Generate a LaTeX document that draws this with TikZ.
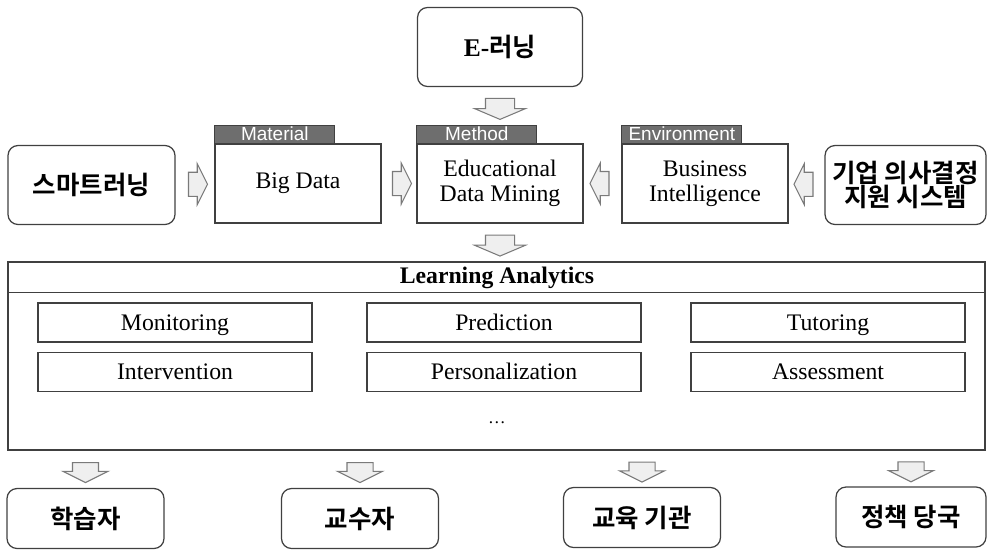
\documentclass[tikz,border=0pt]{standalone}
\usepackage{fontspec}
\setmainfont{Liberation Serif}
\setsansfont{Liberation Sans}
\newfontfamily\kr{Noto Sans CJK KR}[BoldFont=* Bold]
\usetikzlibrary{shapes,arrows,positioning,calc}
\usetikzlibrary{shapes.arrows}

\definecolor{linegray}{HTML}{404040}
\definecolor{tabgray}{HTML}{6E6E6E}
\definecolor{arrowfill}{HTML}{EFEFEF}
\definecolor{arrowline}{HTML}{7A7A7A}

\tikzset{
  rbox/.style={shape=rectangle,draw=linegray,line width=0.7pt,rounded corners=0.2cm,
    minimum width=3.3cm,minimum height=1.58cm,align=center,
    font=\kr\bfseries\fontsize{14.5}{13.5}\selectfont},
  sqbox/.style={shape=rectangle,draw=linegray,line width=0.7pt,
    minimum width=3.32cm,minimum height=1.58cm,align=center,
    font=\fontsize{13.5}{14}\selectfont},
  tab/.style={shape=rectangle,fill=tabgray,draw=linegray,line width=0.5pt,text=white,
    minimum width=2.4cm,minimum height=0.36cm,inner sep=0pt,anchor=south west,
    font=\sffamily\fontsize{10.8}{11}\selectfont},
  item/.style={shape=rectangle,draw=linegray,line width=0.7pt,
    minimum width=5.48cm,minimum height=0.78cm,inner sep=0pt,
    text height=11pt,text depth=2pt,
    font=\fontsize{13.5}{14}\selectfont},
  blockarrow/.style={single arrow,draw=arrowline,fill=arrowfill,line width=0.6pt,
    inner xsep=0pt,single arrow tip angle=127},
  downarrow/.style={blockarrow,rotate=-90,minimum height=0.4cm,inner ysep=0.25cm,
    single arrow head extend=0.19cm},
  bigdown/.style={blockarrow,rotate=-90,minimum height=0.42cm,inner ysep=0.28cm,
    single arrow head extend=0.22cm,single arrow tip angle=134},
  sidearrow/.style={blockarrow,minimum height=0.38cm,inner ysep=0.23cm,
    single arrow head extend=0.17cm}
}

\begin{document}
\begin{tikzpicture}[x=0.02cm,y=-0.02cm]
\useasboundingbox (0,0) rectangle (987,549);

% Top row
\node [rbox] at (500,47) (elearn) {{\rmfamily E-}러닝};

% Second row
\node [rbox,minimum width=3.34cm] at (91.5,185) (smart) {스마트러닝};
\node [sqbox] at (298,183.5) (bigdata) {Big Data};
\node [sqbox] at (500,183.5) (edm) {Educational\\Data Mining};
\node [sqbox] at (705,183.5) (bi) {Business\\Intelligence};
\node [rbox,minimum width=3.22cm] at (905.5,185) (corp) {기업 의사결정\\지원 시스템};

% tabs on top of the three middle boxes
\node [tab] at (bigdata.north west) (mattab) {Material};
\node [tab] at (edm.north west) (methtab) {Method};
\node [tab] at (bi.north west) (envtab) {Environment};

% Learning analytics frame
\node [shape=rectangle,draw=linegray,line width=0.8pt,minimum width=19.54cm,minimum height=3.76cm] at (496.5,356) (la) {};
\draw [draw=linegray,line width=0.7pt] ([yshift=-0.62cm]la.north west) -- ([yshift=-0.62cm]la.north east);
\node [font=\bfseries\fontsize{13.5}{14}\selectfont] at (497,277.5) (latitle) {Learning Analytics};

\node [item] at (175,322.5) (monit) {Monitoring};
\node [item] at (504,322.5) (pred) {Prediction};
\node [item] at (828,322.5) (tutor) {Tutoring};
\node [item] at (175,372) (interv) {Intervention};
\node [item] at (504,372) (person) {Personalization};
\node [item] at (828,372) (assess) {Assessment};
\node [font=\fontsize{10}{10}\selectfont] at (497,423) (more) {\dots};

% Bottom row
\node [rbox,minimum width=3.14cm,minimum height=1.2cm] at (85.5,518.5) (learner) {학습자};
\node [rbox,minimum width=3.14cm,minimum height=1.2cm] at (360,518.5) (teacher) {교수자};
\node [rbox,minimum width=3.14cm,minimum height=1.2cm] at (642,517.5) (inst) {교육 기관};
\node [rbox,minimum width=3.0cm,minimum height=1.2cm] at (911,517) (policy) {정책 당국};

% block arrows between the boxes
\node [bigdown] at ($(elearn.south)!0.5!(methtab.north -| edm.north)$) (a_top) {};
\node [sidearrow] at ($(smart.east)!0.5!(bigdata.west)$) (a_smart) {};
\node [sidearrow] at ($(bigdata.east)!0.5!(edm.west)$) (a_big) {};
\node [sidearrow,rotate=180] at ($(bi.west)!0.5!(edm.east)$) (a_bi) {};
\node [sidearrow,rotate=180] at ($(corp.west)!0.5!(bi.east)$) (a_corp) {};
\node [bigdown] at ($(edm.south)!0.5!(edm.south |- la.north)$) (a_la) {};
\node [downarrow] at ($(learner.north)!0.5!(learner.north |- la.south)$) (a_learner) {};
\node [downarrow] at ($(teacher.north)!0.5!(teacher.north |- la.south)$) (a_teacher) {};
\node [downarrow] at ($(inst.north)!0.5!(inst.north |- la.south)$) (a_inst) {};
\node [downarrow] at ($(policy.north)!0.5!(policy.north |- la.south)$) (a_policy) {};

\end{tikzpicture}
\end{document}
